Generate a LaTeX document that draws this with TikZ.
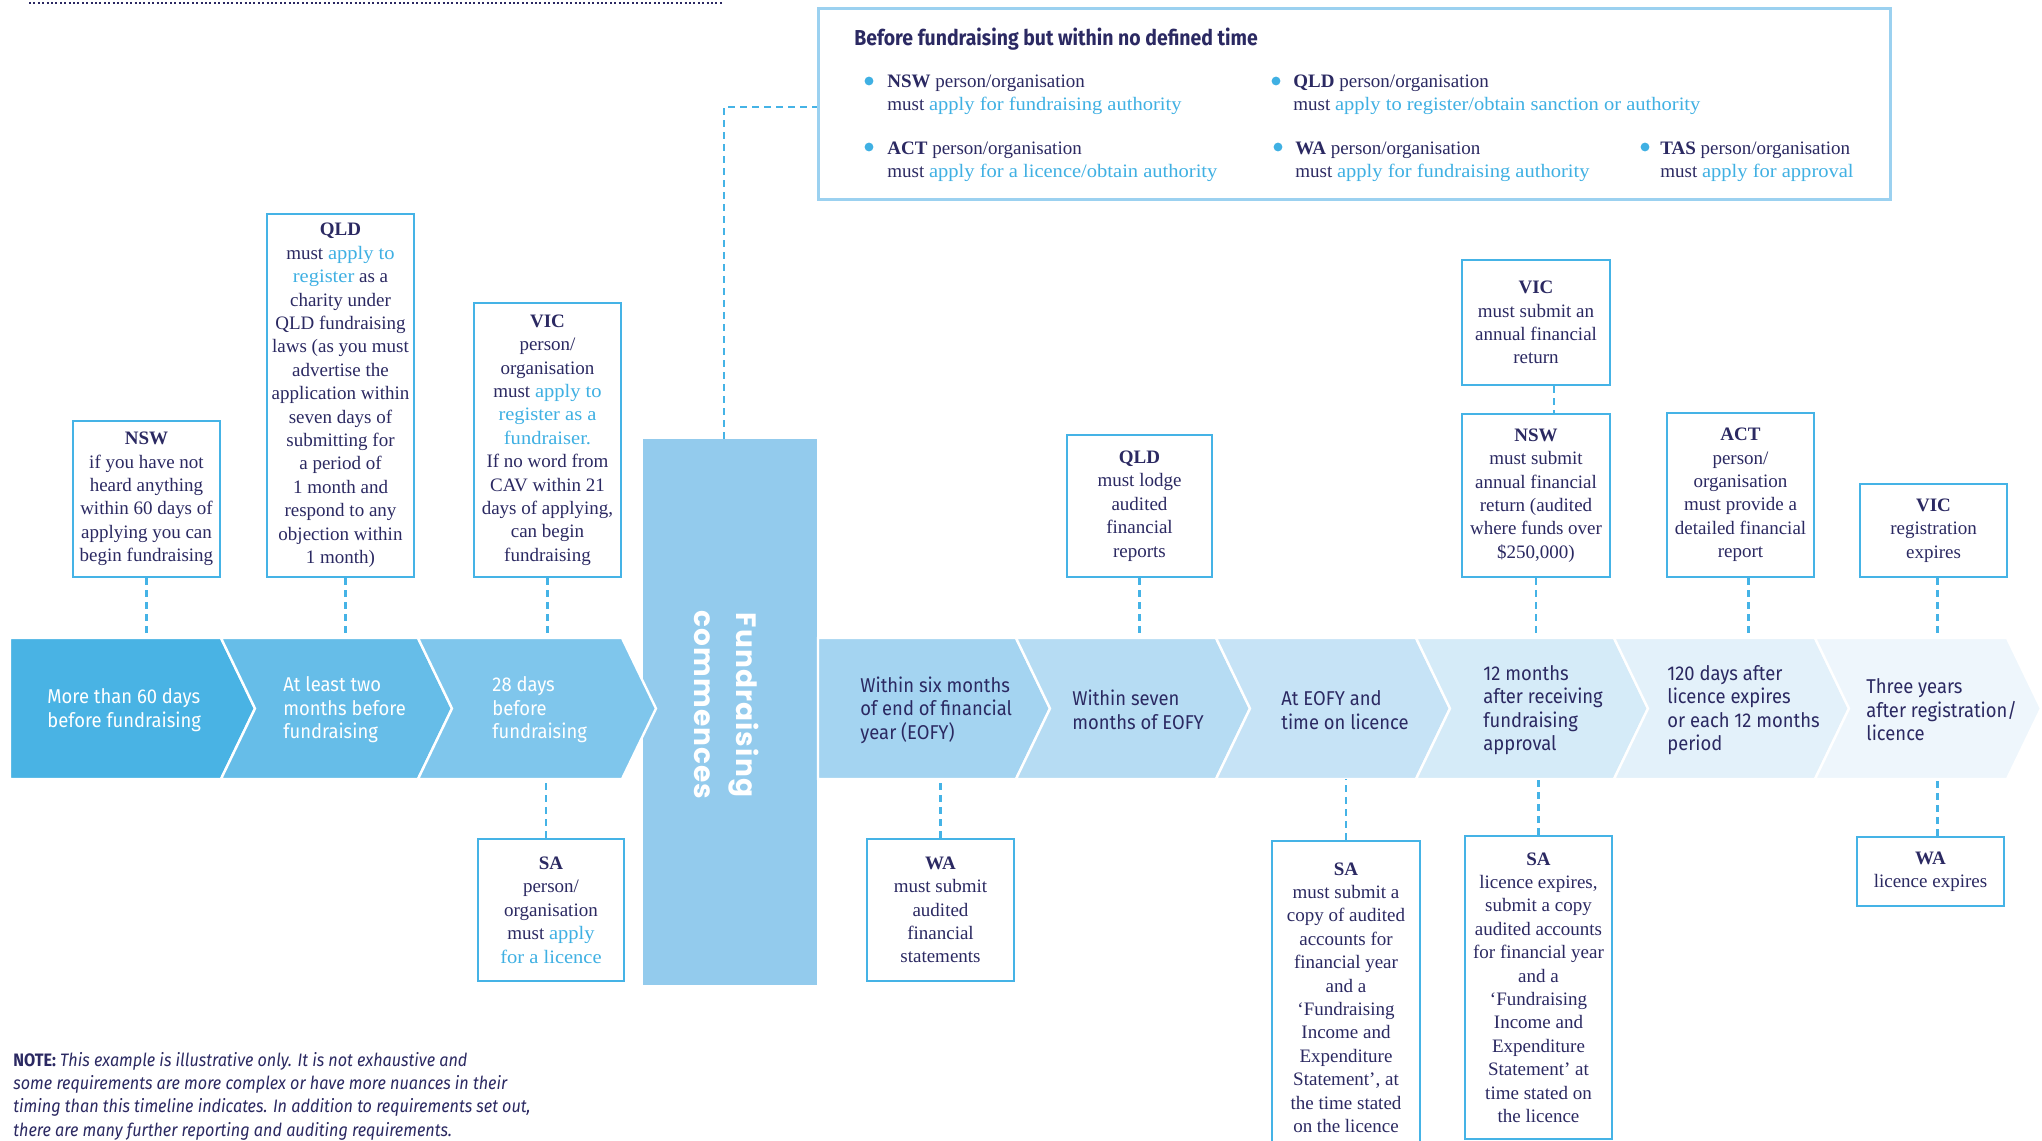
\documentclass[tikz,border=0pt]{standalone}
\usepackage{fontspec}
\setmainfont{Liberation Serif}
\newfontfamily\blufont[FakeStretch=1.08]{Liberation Serif}
\newfontfamily\chevfont[FakeStretch=0.92]{Fira Sans}
\newfontfamily\condfont[FakeStretch=0.9]{Fira Sans}
\newfontfamily\barfont[LetterSpace=4]{Poppins}
\usetikzlibrary{positioning, calc}

\definecolor{navy}{HTML}{2B2962}
\definecolor{hlblue}{HTML}{3FB0E3}
\definecolor{boxblue}{HTML}{45B3E6}
\definecolor{paleblue}{HTML}{9BD1F0}
\definecolor{barblue}{HTML}{93CBED}
\definecolor{chevA}{HTML}{49B3E4}
\definecolor{chevB}{HTML}{66BDE8}
\definecolor{chevC}{HTML}{7FC6EC}
\definecolor{chevD}{HTML}{A4D4F1}
\definecolor{chevE}{HTML}{B6DCF3}
\definecolor{chevF}{HTML}{C6E3F6}
\definecolor{chevG}{HTML}{D5EBF8}
\definecolor{chevH}{HTML}{E3F1FA}
\definecolor{chevI}{HTML}{EEF6FC}

\newcommand{\blu}[1]{{\blufont\color{hlblue}#1}}
\newcommand{\boxsize}{\fontsize{9.5}{11.7}\selectfont}
\newcommand{\chevsize}{\chevfont\fontsize{10}{11.7}\selectfont}

\begin{document}
\begin{tikzpicture}[x=0.5pt, y=-0.5pt,
    infobox/.style={draw=boxblue, line width=1.3pt, fill=white, align=center, text=navy, inner sep=2pt, font=\boxsize, execute at begin node={\rule{0pt}{11pt}}},
    link/.style={draw=boxblue, line width=1.1pt, dash pattern=on 3.5pt off 2.5pt},
    chevtext/.style={anchor=west, align=left, inner sep=0pt, font=\chevsize},
    bulletitem/.style={anchor=west, align=left, text=navy, inner sep=0pt, font=\boxsize},
    bulletdot/.style={fill=hlblue}
]

% canvas
\useasboundingbox (0,0) rectangle (2042,1141);
\fill[white] (0,0) rectangle (2042,1141);
\clip (0,0) rectangle (2042,1141);

\draw[navy, line width=1pt, dash pattern=on 1pt off 1.2pt] (29,3) -- (724,3);

% Row of time steps
\coordinate (rowtop) at (0,638);
\coordinate (rowbot) at (0,779);

% Fundraising commences
\node[fill=barblue, minimum width=87pt, minimum height=273pt, inner sep=0pt] (bar) at (730,712) {};
\node[rotate=-90, align=center, text=white, font=\barfont\bfseries\fontsize{14}{21}\selectfont] (bartext) at (727,705) {Fundraising\\commences};

% Steps before fundraising commences
\foreach \xa/\xb/\nd/\col in {10/221/0/chevA, 221/418/34/chevB, 418/622/34/chevC} {
    \filldraw[fill=\col, draw=white, line width=1.2pt] (\xa,638) -- (\xb,638) -- (\xb+34,708.5) -- (\xb,779) -- (\xa,779) -- (\xa+\nd,708.5) -- cycle;
}
\node[chevtext, text=white] (stepA) at (47,710) {More than 60 days\\before fundraising};
\node[chevtext, text=white] (stepB) at (283,710) {At least two\\months before\\fundraising};
\node[chevtext, text=white] (stepC) at (492,710) {28 days\\before\\fundraising};

% Steps after fundraising commences
\foreach \xa/\xb/\nd/\col in {818/1016/0/chevD, 1016/1216/34/chevE, 1216/1416/34/chevF, 1416/1614/34/chevG, 1614/1815/34/chevH, 1815/2007/34/chevI} {
    \filldraw[fill=\col, draw=white, line width=1.2pt] (\xa,638) -- (\xb,638) -- (\xb+34,708.5) -- (\xb,779) -- (\xa,779) -- (\xa+\nd,708.5) -- cycle;
}
\node[chevtext, text=navy] (stepD) at (860,710) {Within six months\\of end of financial\\year (EOFY)};
\node[chevtext, text=navy] (stepE) at (1072,710) {Within seven\\months of EOFY};
\node[chevtext, text=navy] (stepF) at (1281,710) {At EOFY and\\time on licence};
\node[chevtext, text=navy] (stepG) at (1483,710) {12 months\\after receiving\\fundraising\\approval};
\node[chevtext, text=navy] (stepH) at (1667,710) {120 days after\\licence expires\\or each 12 months\\period};
\node[chevtext, text=navy] (stepI) at (1866,710) {Three years\\after registration/\\licence};

% Before fundraising but within no defined time
\node[draw=paleblue, line width=1.5pt, minimum width=536pt, minimum height=95.5pt, inner sep=0pt] (topbox) at (1354,103.5) {};
\node[anchor=west, inner sep=0pt, text=navy, font=\condfont\bfseries\fontsize{10.8}{12}\selectfont] (toptitle) at (854,39) {Before fundraising but within no defined time};
\fill[bulletdot] (869,81) circle (2.2pt);
\node[bulletitem] (itemnsw) at (887,95) {\textbf{NSW} person/organisation\\must \blu{apply for fundraising authority}};
\fill[bulletdot] (1276,81) circle (2.2pt);
\node[bulletitem] (itemqld) at (1293,95) {\textbf{QLD} person/organisation\\must \blu{apply to register/obtain sanction or authority}};
\fill[bulletdot] (869,147) circle (2.2pt);
\node[bulletitem] (itemact) at (887,161.5) {\textbf{ACT} person/organisation\\must \blu{apply for a licence/obtain authority}};
\fill[bulletdot] (1278,147) circle (2.2pt);
\node[bulletitem] (itemwa) at (1295,161.5) {\textbf{WA} person/organisation\\must \blu{apply for fundraising authority}};
\fill[bulletdot] (1645,147) circle (2.2pt);
\node[bulletitem] (itemtas) at (1660,161.5) {\textbf{TAS} person/organisation\\must \blu{apply for approval}};
\draw[link] ([xshift=-3pt]bar.north) |- ([yshift=-1.75pt]topbox.west);

% Boxes before fundraising
\node[infobox, minimum width=73.5pt, minimum height=78pt] (nswA) at (146.5,499) {\textbf{NSW}\\if you have not\\heard anything\\within 60 days of\\applying you can\\begin fundraising};
\node[infobox, minimum width=73.5pt, minimum height=181.5pt] (qldA) at (340.5,395.5) {\textbf{QLD}\\must \blu{apply to}\\\blu{register} as a\\charity under\\QLD fundraising\\laws (as you must\\advertise the\\application within\\seven days of\\submitting for\\a period of\\1 month and\\respond to any\\objection within\\1 month)};
\node[infobox, minimum width=73.5pt, minimum height=137pt] (vicA) at (547.5,440) {\textbf{VIC}\\person/\\organisation\\must \blu{apply to}\\\blu{register as a}\\\blu{fundraiser.}\\If no word from\\CAV within 21\\days of applying,\\can begin\\fundraising};
\node[infobox, minimum width=73pt, minimum height=71pt] (saA) at (551,910) {\textbf{SA}\\person/\\organisation\\must \blu{apply}\\\blu{for a licence}};

\draw[link] (nswA.south) -- (nswA.south |- rowtop);
\draw[link] ([xshift=2.5pt]qldA.south) -- ([xshift=2.5pt]qldA.south |- rowtop);
\draw[link] (vicA.south) -- (vicA.south |- rowtop);
\draw[link] ([xshift=-2.5pt]saA.north) -- ([xshift=-2.5pt]saA.north |- rowbot);

% Boxes after fundraising
\node[infobox, minimum width=72.5pt, minimum height=71pt] (qldB) at (1139.5,506) {\textbf{QLD}\\must lodge\\audited\\financial\\reports};
\node[infobox, minimum width=74pt, minimum height=62.5pt] (vicB) at (1536,322.5) {\textbf{VIC}\\must submit an\\annual financial\\return};
\node[infobox, minimum width=74pt, minimum height=81.5pt] (nswB) at (1536,495.5) {\textbf{NSW}\\must submit\\annual financial\\return (audited\\where funds over\\\$250,000)};
\node[infobox, minimum width=73.5pt, minimum height=82pt] (actB) at (1740.5,495) {\textbf{ACT}\\person/\\organisation\\must provide a\\detailed financial\\report};
\node[infobox, minimum width=73.5pt, minimum height=46.5pt] (vicC) at (1933.5,530.5) {\textbf{VIC}\\registration\\expires};
\node[infobox, minimum width=73.5pt, minimum height=71pt] (waB) at (940.5,910) {\textbf{WA}\\must submit\\audited\\financial\\statements};
\node[infobox, minimum width=74pt, minimum height=156.5pt] (saB) at (1346,997.5) {\textbf{SA}\\must submit a\\copy of audited\\accounts for\\financial year\\and a\\`Fundraising\\Income and\\Expenditure\\Statement', at\\the time stated\\on the licence};
\node[infobox, minimum width=73.5pt, minimum height=151.5pt] (saC) at (1538.5,987.5) {\textbf{SA}\\licence expires,\\submit a copy\\audited accounts\\for financial year\\and a\\`Fundraising\\Income and\\Expenditure\\Statement' at\\time stated on\\the licence};
\node[infobox, minimum width=73.5pt, minimum height=34.5pt] (waC) at (1930.5,871.5) {\textbf{WA}\\licence expires};

\draw[link] (qldB.south) -- (qldB.south |- rowtop);
\draw[link] ([xshift=9pt]vicB.south) -- ([xshift=9pt]nswB.north);
\draw[link] (nswB.south) -- (nswB.south |- rowtop);
\draw[link] ([xshift=4pt]actB.south) -- ([xshift=4pt]actB.south |- rowtop);
\draw[link] ([xshift=2pt]vicC.south) -- ([xshift=2pt]vicC.south |- rowtop);
\draw[link] (waB.north) -- (waB.north |- rowbot);
\draw[link] (saB.north) -- (saB.north |- rowbot);
\draw[link] (saC.north) -- (saC.north |- rowbot);
\draw[link] ([xshift=3.5pt]waC.north) -- ([xshift=3.5pt]waC.north |- rowbot);

% Note
\node[anchor=west, align=left, inner sep=0pt, text=navy, font=\condfont\fontsize{9}{11.65}\selectfont] (note) at (13,1096) {\textbf{NOTE:} \itshape This example is illustrative only. It is not exhaustive and\\\itshape some requirements are more complex or have more nuances in their\\\itshape timing than this timeline indicates. In addition to requirements set out,\\\itshape there are many further reporting and auditing requirements.};

\end{tikzpicture}
\end{document}
